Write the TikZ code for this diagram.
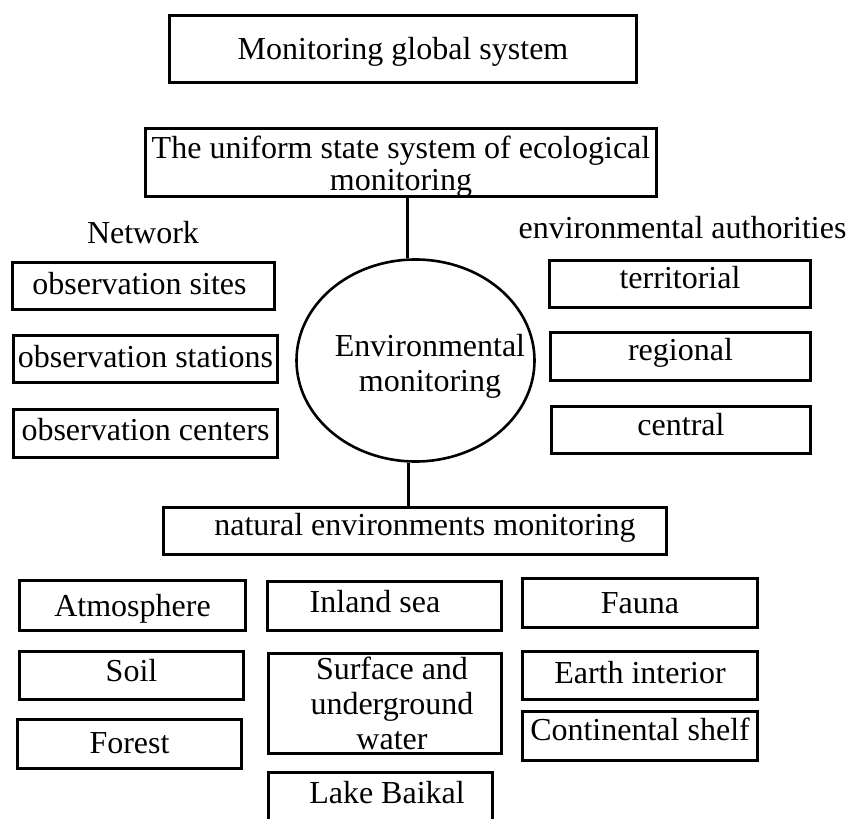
\documentclass[tikz,border=0pt]{standalone}
\usepackage{fontspec}
\setmainfont{Liberation Serif}
\usetikzlibrary{shapes.geometric}
\tikzset{
  box/.style={draw, line width=1.5pt, inner sep=0pt, text height=11pt, text depth=3pt,
    font=\fontsize{16pt}{17.5pt}\selectfont},
  mbox/.style={draw, line width=1.5pt, inner sep=0pt, align=center,
    font=\fontsize{16pt}{17.5pt}\selectfont},
  lbl/.style={inner sep=0pt, text height=11pt, text depth=3pt,
    font=\fontsize{16pt}{17.5pt}\selectfont},
  conn/.style={line width=1.5pt},
}
\begin{document}
\begin{tikzpicture}[x=0.5pt, y=-0.5pt]
\useasboundingbox (0,0) rectangle (850,818);
\clip (0,0) rectangle (850,818);
\fill[white] (0,0) rectangle (850,818);

% top
\node[box, text height=14pt, minimum width=233.5pt, minimum height=33.5pt] (global) at (403,49) {Monitoring global system};
\node[mbox, minimum width=255.5pt, minimum height=34pt, font=\fontsize{16pt}{16pt}\selectfont] (uniform) at (401,162.5)
  {\rule{0pt}{15pt}The uniform state system of ecological\\monitoring};

% ellipse
\node[draw, ellipse, line width=1.3pt, inner sep=0pt, minimum width=119pt, minimum height=101pt] (ell) at (415.5,360.5) {};
\node[inner sep=0pt, align=center, font=\fontsize{16pt}{17.5pt}\selectfont] (envtext) at (430,366) {Environmental\\monitoring};

% left column
\node[lbl] (network) at (143,235) {Network};
\node[box, minimum width=131pt, minimum height=23.5pt] (sites) at (143.5,286) {observation sites\hspace*{4pt}};
\node[box, minimum width=132pt, minimum height=23.5pt] (stations) at (145.5,359) {observation stations};
\node[box, text height=9.5pt, minimum width=132pt, minimum height=24pt] (centers) at (145.5,433.5) {observation centers};

% right column
\node[lbl] (authorities) at (682.5,230) {environmental authorities};
\node[box, text height=7pt, minimum width=130.5pt, minimum height=23.5pt] (territorial) at (680,284) {territorial};
\node[box, text height=6.5pt, minimum width=130pt, minimum height=24pt] (regional) at (680.5,356.5) {regional};
\node[box, text height=8pt, minimum width=129.5pt, minimum height=23.5pt] (central) at (681,430) {central};

% natural
\node[box, text height=7pt, minimum width=251.5pt, minimum height=23.5pt] (natural) at (415,531) {\hspace*{10pt}natural environments monitoring};

% bottom grid
\node[box, text height=13.5pt, minimum width=113pt, minimum height=25pt] (atmo) at (132.5,605.5) {Atmosphere};
\node[box, text height=9pt, minimum width=117pt, minimum height=24.5pt] (inland) at (384.5,606) {Inland sea\hspace*{9.5pt}};
\node[box, text height=13pt, minimum width=117.5pt, minimum height=24.5pt] (fauna) at (640,603) {Fauna};
\node[box, text height=8.5pt, minimum width=112pt, minimum height=24pt] (soil) at (131.5,675.5) {Soil};
\node[mbox, minimum width=116.5pt, minimum height=50pt] (surface) at (385,703.5) {\hspace*{7pt}Surface and\\\hspace*{7pt}underground\\\hspace*{7pt}water};
\node[box, text height=10.5pt, minimum width=117.5pt, minimum height=24pt] (earth) at (640,675.5) {Earth interior};
\node[box, text height=7pt, minimum width=117.5pt, minimum height=24.5pt] (continental) at (640,736) {Continental shelf};
\node[box, text height=12pt, minimum width=112pt, minimum height=24.5pt] (forest) at (129.5,744) {Forest};
\node[box, text height=7pt, minimum width=112pt, minimum height=27pt] (lake) at (380.5,799) {\hspace*{6.5pt}Lake Baikal};

% connectors
\coordinate (t1) at (407,0);
\coordinate (t2) at (408,0);
\draw[conn] (uniform.south -| t1) -- (t1 |- ell.north);
\draw[conn] (ell.south -| t2) -- (natural.north -| t2);
\end{tikzpicture}
\end{document}
